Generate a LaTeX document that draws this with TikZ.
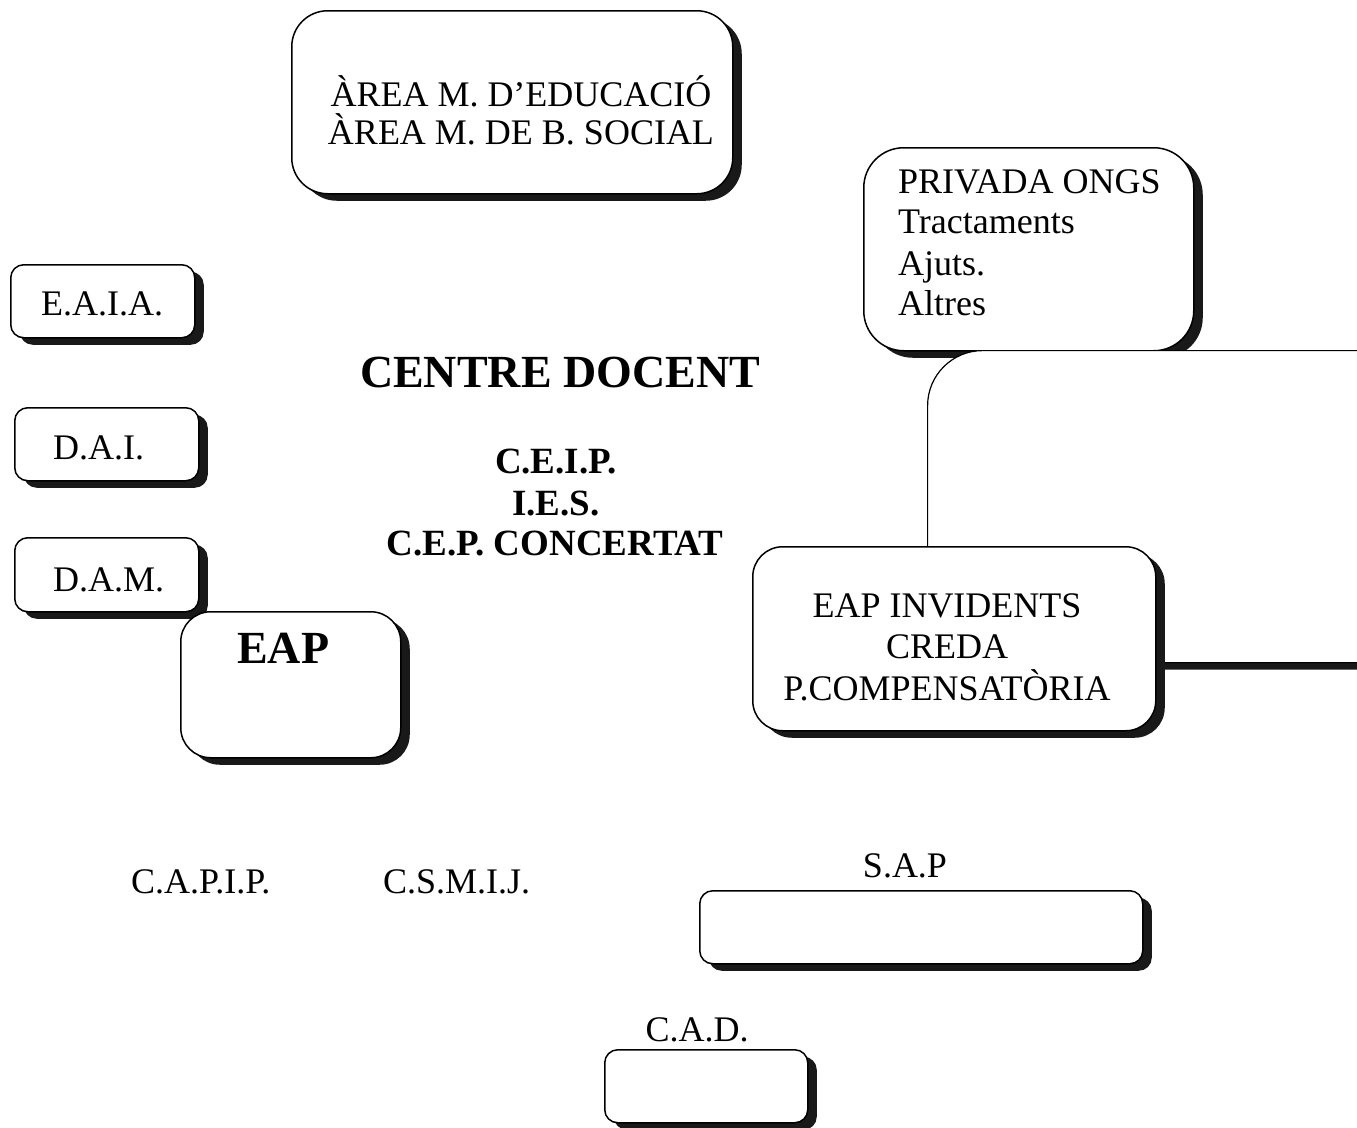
\documentclass[tikz,border=0pt]{standalone}
\usepackage{fontspec}
\setmainfont{Liberation Serif}
\usetikzlibrary{shadows, positioning}

\tikzset{
  caixa/.style={draw, line width=1.5pt, fill=white, rounded corners=#1, inner sep=0pt, anchor=north west,
    general shadow={fill=black!90, shadow xshift=9pt, shadow yshift=-7pt}},
  caixa/.default=13pt,
  txt/.style={font=\fontsize{36}{41}\selectfont, inner sep=0pt},
  negreta/.style={font=\fontsize{37}{41}\selectfont\bfseries, inner sep=0pt},
  titol/.style={font=\fontsize{46}{52}\selectfont\bfseries, inner sep=0pt},
}

\begin{document}
\begin{tikzpicture}[x=1pt, y=-1pt]
   \useasboundingbox (0,0) rectangle (1357,1127);
   \clip (0,0) rectangle (1357,1127);
   % arees municipals
   \node[caixa=36pt, minimum width=441pt, minimum height=183pt] (area) at (291,10) {};
   \node[txt, anchor=base] (educacio) at (521,106) {ÀREA M. D’EDUCACIÓ};
   \node[txt, anchor=base] (social) at (521,144) {ÀREA M. DE B. SOCIAL};
   % privada
   \node[caixa=40pt, minimum width=330pt, minimum height=203pt] (privada) at (863,147) {};
   \node[txt, anchor=base west] (ongs) at (898,193) {PRIVADA ONGS};
   \node[txt, anchor=base west] (tractaments) at (898,233) {Tractaments};
   \node[txt, anchor=base west] (ajuts) at (898,275) {Ajuts.};
   \node[txt, anchor=base west] (altres) at (898,315) {Altres};
   % suport extern
   \node[caixa=55pt, line width=1.2pt, minimum width=600pt, minimum height=312pt] (suport) at (927,350) {};
   \node[caixa=30pt, minimum width=403pt, minimum height=184pt] (invidents) at (752,546) {};
   \node[txt, anchor=base] (eapinv) at (947,617) {EAP INVIDENTS};
   \node[txt, anchor=base] (creda) at (947,658) {CREDA};
   \node[txt, anchor=base] (compensatoria) at (947,700) {P.COMPENSATÒRIA};
   % equips
   \node[caixa, minimum width=184pt, minimum height=73pt] (eaia) at (10,264) {};
   \node[txt, anchor=base west] (eaiatxt) at (41,315) {E.A.I.A.};
   \node[caixa, minimum width=184pt, minimum height=73pt] (dai) at (14,407) {};
   \node[txt, anchor=base west] (daitxt) at (53,459) {D.A.I.};
   \node[caixa, minimum width=184pt, minimum height=74pt] (dam) at (14,537) {};
   \node[txt, anchor=base west] (damtxt) at (53,591) {D.A.M.};
   \node[caixa=30pt, minimum width=220pt, minimum height=146pt] (eap) at (180,611) {};
   \node[titol, anchor=base west] (eaptxt) at (237,663) {EAP};
   % centre docent
   \node[titol, anchor=base] (centre) at (560,387) {CENTRE DOCENT};
   \node[negreta, anchor=base] (ceip) at (556,473) {C.E.I.P.};
   \node[negreta, anchor=base] (ies) at (556,515) {I.E.S.};
   \node[negreta, anchor=base] (cep) at (555,555) {C.E.P. CONCERTAT};
   % serveis
   \node[txt, anchor=base west] (capip) at (131,893) {C.A.P.I.P.};
   \node[txt, anchor=base west] (csmij) at (383,893) {C.S.M.I.J.};
   \node[txt, anchor=base] (saptxt) at (905,877) {S.A.P};
   \node[caixa, minimum width=443pt, minimum height=73pt] (sap) at (699,890) {};
   \node[txt, anchor=base] (cadtxt) at (697,1041) {C.A.D.};
   \node[caixa, minimum width=203pt, minimum height=73pt] (cad) at (604,1049) {};
\end{tikzpicture}
\end{document}
